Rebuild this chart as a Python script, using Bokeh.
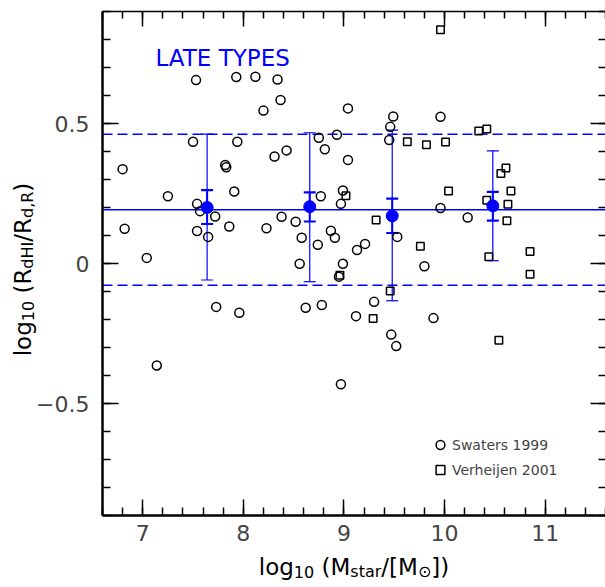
import math
from bokeh.plotting import figure
from bokeh.models import (Range1d, LinearAxis, FixedTicker, Whisker, TeeHead,
                          ColumnDataSource, Label, Legend, LegendItem, CustomJSTickFormatter)
from bokeh.embed import file_html
from bokeh.resources import INLINE

# ---------------- data ----------------
swaters_x = [7.53, 7.93, 8.12, 8.20, 7.50, 7.94, 7.82, 7.83, 6.80, 7.25,
             7.91, 7.54, 7.57, 7.72, 6.82, 7.54, 7.65, 7.86, 8.23, 7.04,
             7.73, 7.96, 7.14, 8.34, 8.37, 9.04, 9.49, 9.46, 9.45, 8.75,
             8.93, 8.81, 8.43, 8.31, 9.04, 8.99, 8.77, 8.97, 8.38, 8.52,
             8.58, 8.87, 8.91, 8.74, 9.21, 9.13, 9.53, 8.56, 8.99, 9.80,
             8.95, 8.62, 8.78, 9.30, 9.12, 9.47, 9.52, 8.97, 9.96, 9.96,
             10.23, 9.89]
swaters_y = [0.655, 0.666, 0.667, 0.546, 0.435, 0.435, 0.352, 0.344, 0.337, 0.240,
             0.257, 0.213, 0.187, 0.168, 0.124, 0.116, 0.095, 0.132, 0.126, 0.020,
             -0.155, -0.176, -0.364, 0.657, 0.584, 0.554, 0.525, 0.488, 0.441, 0.449,
             0.460, 0.408, 0.404, 0.382, 0.370, 0.261, 0.240, 0.213, 0.167, 0.149,
             0.092, 0.117, 0.092, 0.067, 0.070, 0.048, 0.095, -0.001, -0.001, -0.010,
             -0.047, -0.158, -0.148, -0.137, -0.188, -0.254, -0.295, -0.431, 0.524, 0.198,
             0.164, -0.195]

verheijen_x = [9.02, 9.32, 9.63, 9.82, 9.76, 8.96, 9.29, 9.46, 9.96, 10.01,
               10.34, 10.42, 10.61, 10.56, 10.04, 10.66, 10.42, 10.63, 10.62, 10.44,
               10.85, 10.85, 10.54]
verheijen_y = [0.242, 0.155, 0.435, 0.424, 0.062, -0.042, -0.196, -0.098, 0.835, 0.434,
               0.473, 0.480, 0.341, 0.321, 0.259, 0.259, 0.226, 0.212, 0.153, 0.024,
               0.043, -0.038, -0.274]

bin_x = [7.64, 8.66, 9.48, 10.48]
bin_mean = [0.200, 0.203, 0.170, 0.206]
bin_err_lo = [0.141, 0.150, 0.109, 0.153]
bin_err_hi = [0.262, 0.254, 0.232, 0.256]
bin_sd_lo = [-0.059, -0.065, -0.133, 0.010]
bin_sd_hi = [0.462, 0.467, 0.476, 0.402]

mean_all = 0.192
scatter_hi = 0.462
scatter_lo = -0.078

x_ticks = [7, 8, 9, 10, 11]
y_ticks = [-0.5, 0, 0.5]
y_tick_labels = {-0.5: "\u22120.5", 0: "0", 0.5: "0.5"}

# ---------------- layout ----------------
XMIN, XMAX = 6.6, 11.6
YMIN, YMAX = -0.9, 0.9
W, H = 605, 587
FL, FR, FT, FB = 102, 605, 11, 515          # plot box in canvas pixels
XS = (FR - FL) / (XMAX - XMIN)
YS = (FB - FT) / (YMAX - YMIN)


def px2x(px):
    return XMIN + (px - FL) / XS


def py2y(py):
    return YMIN + (FB - py) / YS


BLUE = "#0000ff"
FONT = "DejaVu Sans"

# frame covers the whole canvas; the axes are pinned to the plot box edges
p = figure(width=W, height=H,
           x_range=Range1d(px2x(0), px2x(W)), y_range=Range1d(py2y(H), py2y(0)),
           output_backend="svg", toolbar_location=None,
           x_axis_location=None, y_axis_location=None,
           min_border=0, min_border_left=0, min_border_right=0,
           min_border_top=0, min_border_bottom=0)
p.grid.visible = False
p.outline_line_color = None
p.background_fill_color = "white"
p.border_fill_color = "white"

x_minor = [round(XMIN + 0.2 * i, 2) for i in range(26)]
y_minor = [round(YMIN + 0.1 * i, 2) for i in range(19)]


def style(ax, thick, tick_in, minor_in):
    ax.axis_line_width = thick
    ax.axis_line_color = "black"
    ax.major_tick_in = tick_in
    ax.major_tick_out = 0
    ax.minor_tick_in = minor_in
    ax.minor_tick_out = 0
    ax.major_tick_line_width = 1.5
    ax.minor_tick_line_width = 1.5


xa = LinearAxis(ticker=FixedTicker(ticks=x_ticks, minor_ticks=x_minor),
                fixed_location=YMIN, bounds=(XMIN, XMAX))
style(xa, 2.5, 16, 8)
xa.major_label_text_font = FONT
xa.major_label_text_font_size = "22px"
xa.major_label_standoff = 9
p.add_layout(xa, "below")

ya = LinearAxis(ticker=FixedTicker(ticks=y_ticks, minor_ticks=y_minor),
                fixed_location=XMIN, bounds=(YMIN, YMAX))
ya.major_label_overrides = y_tick_labels
style(ya, 2.5, 16, 8)
ya.major_label_text_font = FONT
ya.major_label_text_font_size = "22px"
ya.major_label_standoff = 13
p.add_layout(ya, "left")

ta = LinearAxis(ticker=FixedTicker(ticks=x_ticks, minor_ticks=x_minor),
                fixed_location=YMAX, bounds=(XMIN, XMAX),
                formatter=CustomJSTickFormatter(code="return ''"))
style(ta, 1.5, 15, 7)
ta.major_label_text_font_size = "0px"
p.add_layout(ta, "above")

ra = LinearAxis(ticker=FixedTicker(ticks=y_ticks, minor_ticks=y_minor),
                fixed_location=XMAX, bounds=(YMIN, YMAX),
                formatter=CustomJSTickFormatter(code="return ''"))
style(ra, 1.5, 15, 7)
ra.axis_line_color = None
ra.major_label_text_font_size = "0px"
p.add_layout(ra, "right")

# reference lines (mean and +/- scatter) across the plot box
p.segment(x0=XMIN, x1=XMAX, y0=mean_all, y1=mean_all, line_color=BLUE, line_width=1.5)
for v in (scatter_hi, scatter_lo):
    p.segment(x0=XMIN, x1=XMAX, y0=v, y1=v, line_color=BLUE, line_width=1.5,
              line_dash="10 5")

# data points
r_sw = p.scatter(swaters_x, swaters_y, marker="circle", size=9, fill_color=None,
                 line_color="black", line_width=1.5)
r_ve = p.scatter(verheijen_x, verheijen_y, marker="square", size=7.5, fill_color=None,
                 line_color="black", line_width=1.5)

# binned means with error bars
src = ColumnDataSource(dict(x=bin_x, m=bin_mean, elo=bin_err_lo, ehi=bin_err_hi,
                            slo=bin_sd_lo, shi=bin_sd_hi))
p.add_layout(Whisker(source=src, base="x", lower="slo", upper="shi", dimension="height",
                     line_color=BLUE, line_width=1.2,
                     upper_head=TeeHead(size=12, line_color=BLUE, line_width=1.2),
                     lower_head=TeeHead(size=12, line_color=BLUE, line_width=1.2)))
p.add_layout(Whisker(source=src, base="x", lower="elo", upper="ehi", dimension="height",
                     line_color=BLUE, line_width=2,
                     upper_head=TeeHead(size=12, line_color=BLUE, line_width=2.2),
                     lower_head=TeeHead(size=12, line_color=BLUE, line_width=2.2)))
p.scatter("x", "m", source=src, marker="circle", size=12, fill_color=BLUE,
          line_color=BLUE)

# legend (location in pixels from bottom-left of the canvas-wide frame)
legend = Legend(items=[LegendItem(label="Swaters 1999", renderers=[r_sw]),
                       LegendItem(label="Verheijen 2001", renderers=[r_ve])],
                location=(429, H - 482), background_fill_alpha=0, border_line_color=None,
                label_text_font=FONT, label_text_font_size="14px",
                glyph_width=22, glyph_height=25, label_height=25, label_standoff=1,
                padding=0, margin=0, spacing=0)
p.add_layout(legend)

# title text
p.add_layout(Label(x=px2x(155), y=py2y(57), text="LATE TYPES", text_font=FONT,
                   text_font_size="23px", text_color=BLUE, text_baseline="alphabetic",
                   text_align="left"))

# ---- axis labels composed of pieces (subscripts) ----
NB = "\u00a0"
W_EM = {"l": 569, "o": 1253, "g": 1300, NB: 651, "(": 799, ")": 799, "M": 1767,
        "/": 690, "[": 799, "]": 799, "1": 1303, "0": 1303, "s": 1067, "t": 803,
        "a": 1255, "r": 842, "R": 1423, "d": 1300, "H": 1540, "I": 604, ",": 651,
        "\u2299": 1716}


def tw(s, size):
    return sum(W_EM.get(c, 1200) for c in s) / 2048.0 * size


MAIN, SUB, DROP = 23, 16, 5
SHIFT = 9   # empirical baseline correction of the renderer

xlabel_parts = [("log", False), ("10", True), (NB + "(M", False), ("star", True),
                ("/[M", False), ("\u2299", True), ("])", False)]
ylabel_parts = [("log", False), ("10", True), (NB + "(R", False), ("dHI", True),
                ("/R", False), ("d,R", True), (")", False)]

total = sum(tw(s, SUB if sub else MAIN) for s, sub in xlabel_parts)
cx = (FL + FR) / 2.0 - total / 2.0
base_y = 575 - SHIFT
for s, sub in xlabel_parts:
    size = SUB if sub else MAIN
    p.add_layout(Label(x=px2x(cx), y=py2y(base_y + (DROP if sub else 0)), text=s,
                       text_font=FONT, text_font_size=f"{size}px", text_color="black",
                       text_align="left", text_baseline="alphabetic"))
    cx += tw(s, size)

total = sum(tw(s, SUB if sub else MAIN) for s, sub in ylabel_parts)
cy = (FT + FB) / 2.0 + total / 2.0 + 6
base_x = 31 - SHIFT
for s, sub in ylabel_parts:
    size = SUB if sub else MAIN
    p.add_layout(Label(x=px2x(base_x + (DROP if sub else 0)), y=py2y(cy), text=s,
                       angle=math.pi / 2, angle_units="rad",
                       text_font=FONT, text_font_size=f"{size}px", text_color="black",
                       text_align="left", text_baseline="alphabetic"))
    cy -= tw(s, size)

open("out.html", "w").write(file_html(p, INLINE))
